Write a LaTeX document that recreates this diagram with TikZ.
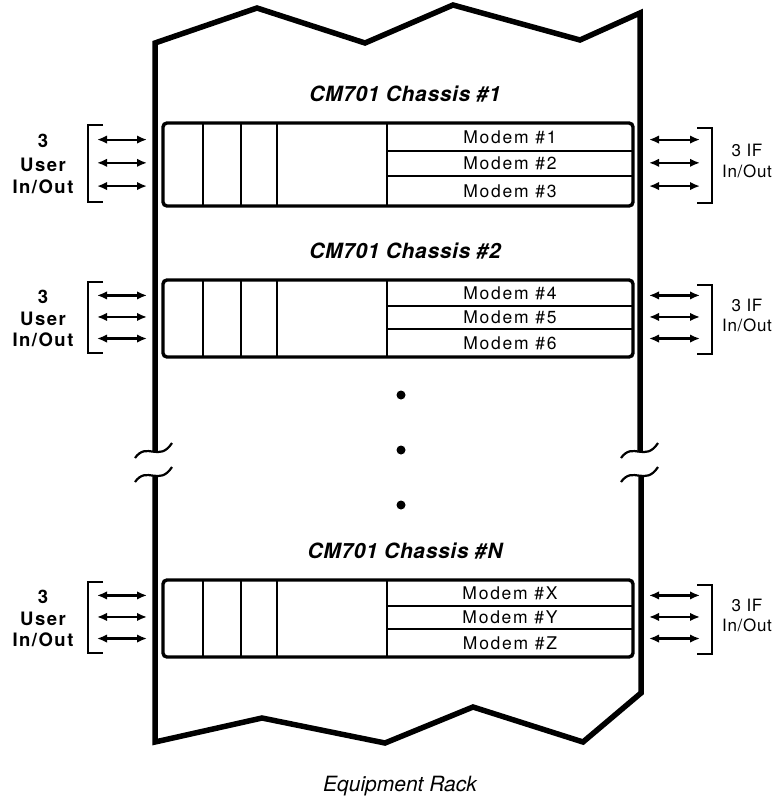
\documentclass[tikz,border=0pt]{standalone}
\usepackage{fontspec}
\setmainfont{TeX Gyre Heros}
\usetikzlibrary{arrows.meta}
\begin{document}
\begin{tikzpicture}[x=1pt,y=-1pt,
  wall/.style={line width=5.5pt, line join=miter},
  chassis/.style={draw, line width=3.4pt, rounded corners=4pt, inner sep=0pt, outer sep=0pt, minimum width=470pt},
  div/.style={line width=2.2pt},
  io/.style={line width=2.2pt, {Latex[length=10pt,width=8.5pt]}-{Latex[length=10pt,width=8.5pt]}},
  brk/.style={line width=2.2pt},
  brack/.style={line width=2.6pt},
  title/.style={font=\fontsize{21}{21}\selectfont\bfseries\itshape\addfontfeature{LetterSpace=3}},
  modem/.style={font=\fontsize{17.5}{17.5}\selectfont\addfontfeature{LetterSpace=10}, inner sep=0pt},
  ulab/.style={font=\fontsize{18.5}{18.5}\selectfont\bfseries\addfontfeature{LetterSpace=8}, inner sep=0pt},
  iflab/.style={font=\fontsize{17}{17}\selectfont\addfontfeature{LetterSpace=4}, inner sep=0pt},
  rack/.style={font=\fontsize{21}{21}\selectfont\itshape}
]
\useasboundingbox (0,0) rectangle (783,806);

% rack walls
\draw[wall] (155,452) -- (155,43) -- (257,8) -- (365,43) -- (453,5) -- (580,40) -- (640,13) -- (640,452);
\draw[wall] (155,476) -- (155,742) -- (262,718) -- (385,743) -- (473,707) -- (583,742) -- (641,693) -- (641,476);

% break marks
\foreach \w in {155,641} {
  \draw[brk] (\w-20,458) .. controls (\w-8,441) and (\w+4,463) .. (\w+17,443);
  \draw[brk] (\w-20,482) .. controls (\w-8,465) and (\w+4,487) .. (\w+17,467);
}

% continuation dots
\fill (401,395) circle (4.5pt);
\fill (401,450) circle (4.5pt);
\fill (401,505) circle (4.5pt);

% chassis
\foreach \t/\h/\n/\a/\b/\c [count=\i] in {123/83/1/1/2/3, 280/77/2/4/5/6, 580/77/N/X/Y/Z} {
  \node[chassis, minimum height=\h pt, anchor=north west] (box\i) at (163,\t) {};
  \node[title] (title\i) at (405,\t-29) {CM701 Chassis \#\n};
  \foreach \x in {203,241,277,387} \draw[div] (\x,\t) -- (\x,\t+\h);
  \draw[div] (387,\t+0.34*\h) -- (633,\t+0.34*\h);
  \draw[div] (387,\t+0.64*\h) -- (633,\t+0.64*\h);
  \node[modem] (m\i a) at (510,\t+0.17*\h) {Modem \#\a};
  \node[modem] (m\i b) at (510,\t+0.49*\h) {Modem \#\b};
  \node[modem] (m\i c) at (510,\t+0.82*\h) {Modem \#\c};
  % I/O arrows
  \foreach \f [count=\k] in {0.2,0.48,0.76} {
    \coordinate (ul\i\k) at (97,\t+\f*\h);
    \coordinate (ur\i\k) at (147,\t+\f*\h);
    \draw[io] (ul\i\k) -- (ur\i\k);
    \coordinate (il\i\k) at (649,\t+\f*\h);
    \coordinate (ir\i\k) at (700,\t+\f*\h);
    \draw[io] (il\i\k) -- (ir\i\k);
  }
  \draw[brack] (103,\t+2) -- (88,\t+2) -- (88,\t+\h-4) -- (103,\t+\h-4);
  \draw[brack] (697,\t+5) -- (712,\t+5) -- (712,\t+\h-3) -- (697,\t+\h-3);
  \node[ulab] (u\i a) at (43,\t+0.22*\h) {3};
  \node[ulab] (u\i b) at (43,\t+0.5*\h) {User};
  \node[ulab] (u\i c) at (43,\t+0.77*\h) {In/Out};
  \node[iflab] (f\i a) at (747,\t+0.33*\h) {3 IF};
  \node[iflab] (f\i b) at (747,\t+0.585*\h) {In/Out};
}

\node[rack] (rack) at (400,786) {Equipment Rack};
\end{tikzpicture}
\end{document}
